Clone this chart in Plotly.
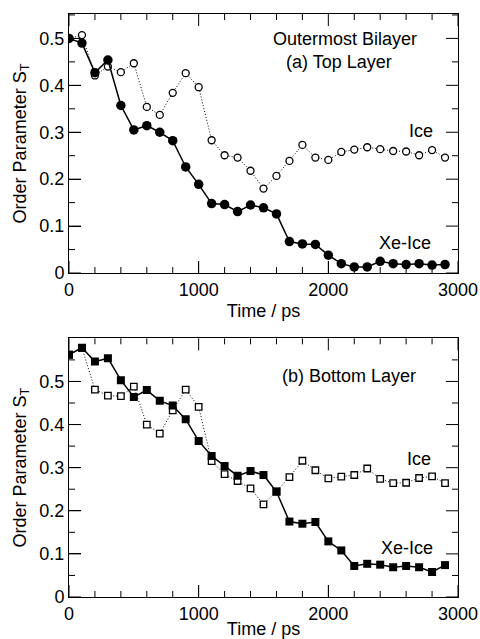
import plotly.graph_objects as go

time_ps = [0, 100, 200, 300, 400, 500, 600, 700, 800, 900, 1000, 1100, 1200, 1300, 1400,
           1500, 1600, 1700, 1800, 1900, 2000, 2100, 2200, 2300, 2400, 2500, 2600, 2700, 2800, 2900]

top_xe_ice = [0.500, 0.490, 0.427, 0.454, 0.357, 0.305, 0.314, 0.300, 0.282, 0.226,
              0.189, 0.148, 0.146, 0.131, 0.145, 0.139, 0.126, 0.067, 0.062, 0.061,
              0.038, 0.020, 0.013, 0.013, 0.025, 0.020, 0.018, 0.020, 0.017, 0.018]
top_ice = [0.500, 0.507, 0.421, 0.440, 0.428, 0.447, 0.354, 0.337, 0.384, 0.426,
           0.396, 0.283, 0.251, 0.246, 0.218, 0.180, 0.207, 0.239, 0.273, 0.246,
           0.241, 0.258, 0.263, 0.268, 0.264, 0.260, 0.259, 0.251, 0.262, 0.246]

bottom_xe_ice = [0.562, 0.578, 0.546, 0.554, 0.503, 0.464, 0.480, 0.455, 0.444, 0.412,
                 0.362, 0.327, 0.304, 0.281, 0.292, 0.283, 0.244, 0.175, 0.170, 0.174,
                 0.129, 0.108, 0.072, 0.077, 0.075, 0.069, 0.072, 0.069, 0.058, 0.074]
bottom_ice = [0.562, 0.578, 0.481, 0.467, 0.466, 0.488, 0.400, 0.379, 0.433, 0.481,
              0.441, 0.315, 0.285, 0.269, 0.252, 0.215, 0.245, 0.278, 0.316, 0.294,
              0.275, 0.279, 0.283, 0.298, 0.274, 0.264, 0.265, 0.276, 0.280, 0.264]

x_ticks = [0, 1000, 2000, 3000]
x_minor_ticks = [200, 400, 600, 800, 1200, 1400, 1600, 1800, 2200, 2400, 2600, 2800]
y_ticks = [0, 0.1, 0.2, 0.3, 0.4, 0.5]
y_ticklabels = ["0", "0.1", "0.2", "0.3", "0.4", "0.5"]
y_minor_ticks = [0.05, 0.15, 0.25, 0.35, 0.45, 0.55]

FONT = "Liberation Sans, Arial, Helvetica, sans-serif"
TF = dict(family=FONT, size=18, color="black")
fig = go.Figure()

def add_pair(ice, xe, xa, ya, sym):
    fig.add_trace(go.Scatter(
        x=time_ps, y=ice, xaxis=xa, yaxis=ya, mode="lines+markers",
        line=dict(color="black", width=1, dash="1px,2px"),
        marker=dict(symbol=sym, size=7 if sym == "circle" else 6.5, color="white",
                    line=dict(color="black", width=1.3)),
        showlegend=False, name="Ice", hoverinfo="skip"))
    fig.add_trace(go.Scatter(
        x=time_ps, y=xe, xaxis=xa, yaxis=ya, mode="lines+markers",
        line=dict(color="black", width=1.5),
        marker=dict(symbol=sym, size=9.5 if sym == "circle" else 8, color="black",
                    line=dict(color="black", width=0)),
        showlegend=False, name="Xe-Ice", hoverinfo="skip"))

add_pair(top_ice, top_xe_ice, "x", "y", "circle")
add_pair(bottom_ice, bottom_xe_ice, "x2", "y2", "square")

def xaxis(anchor):
    return dict(
        anchor=anchor, range=[0, 3000], domain=[0, 1], automargin=False,
        tickmode="array", tickvals=x_ticks, ticktext=[str(v) for v in x_ticks],
        ticks="inside", ticklen=12, tickwidth=1, tickcolor="black",
        showline=True, linecolor="black", linewidth=1, mirror=True,
        showgrid=False, zeroline=False, tickfont=TF,
        title=dict(text="Time / ps", font=TF, standoff=5),
    )

def yaxis(anchor, domain, top):
    return dict(
        anchor=anchor, domain=domain, range=[0, top], automargin=False,
        tickmode="array", tickvals=y_ticks, ticktext=y_ticklabels,
        ticks="inside", ticklen=12, tickwidth=1, tickcolor="black",
        showline=True, linecolor="black", linewidth=1, mirror=True,
        showgrid=False, zeroline=False, tickfont=TF,
        title=dict(text="Order Parameter S<sub>T</sub>", font=TF, standoff=8),
    )

fig.update_layout(
    width=480, height=639,
    margin=dict(l=69, r=22, t=14, b=42),
    paper_bgcolor="white", plot_bgcolor="white",
    xaxis=xaxis("y"), yaxis=yaxis("x", [0.5557, 1.0], 0.552),
    xaxis2=xaxis("y2"), yaxis2=yaxis("x2", [0.0, 0.4437], 0.6),
    hovermode=False,
)

# tick marks on all four sides, placed through the axes' own scales
TICK = dict(color="black", width=1)
def add_ticks(xr, yr):
    for vals, ln in ((x_ticks, 12), (x_minor_ticks, 6)):
        for v in vals:
            for anc, sgn in ((0, 1), (1, -1)):
                fig.add_shape(type="line", xref=xr, yref=yr + " domain",
                              ysizemode="pixel", yanchor=anc, x0=v, x1=v, y0=0, y1=sgn * ln,
                              line=TICK, layer="above")
    for vals, ln in ((y_ticks, 12), (y_minor_ticks, 6)):
        for v in vals:
            for anc, sgn in ((0, 1), (1, -1)):
                fig.add_shape(type="line", xref=xr + " domain", yref=yr,
                              xsizemode="pixel", xanchor=anc, x0=0, x1=sgn * ln, y0=v, y1=v,
                              line=TICK, layer="above")

add_ticks("x", "y")
add_ticks("x2", "y2")

def note(text, x, y, xr, yr):
    fig.add_annotation(text=text, x=x, y=y, xref=xr, yref=yr, showarrow=False,
                       xanchor="center", yanchor="middle", font=TF)

note("Outermost Bilayer", 2132, 0.499, "x", "y")
note("(a) Top Layer", 2085, 0.4497, "x", "y")
note("Ice", 2718, 0.302, "x", "y")
note("Xe-Ice", 2595, 0.064, "x", "y")
note("(b) Bottom Layer", 2163, 0.512, "x2", "y2")
note("Ice", 2702, 0.320, "x2", "y2")
note("Xe-Ice", 2610, 0.114, "x2", "y2")

fig.write_html("out.html", config={"displayModeBar": False},
               post_script="document.body.style.margin='0';document.body.style.overflow='hidden';")
